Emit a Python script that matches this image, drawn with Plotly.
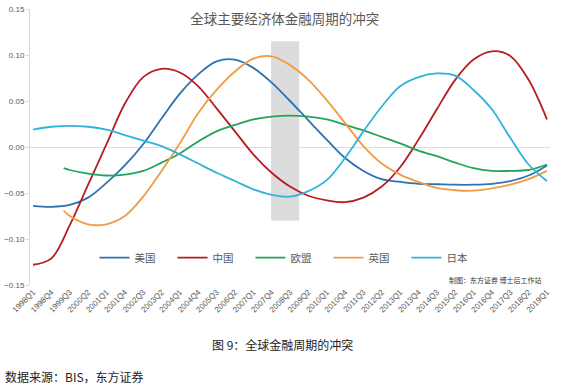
import plotly.graph_objects as go

# ---------------- data ----------------
sample_quarters = ["1998Q1", "1998Q4", "1999Q2", "1999Q3", "2000Q2", "2001Q1", "2001Q4",
                   "2002Q3", "2003Q2", "2004Q1", "2004Q4", "2005Q3", "2006Q2", "2007Q1",
                   "2007Q4", "2008Q3", "2009Q2", "2010Q1", "2010Q4", "2011Q3", "2012Q2",
                   "2013Q1", "2013Q4", "2014Q3", "2015Q2", "2016Q1", "2016Q4", "2017Q3",
                   "2018Q2", "2019Q1"]

us = [-0.064, -0.065, None, -0.063, -0.055, -0.039, -0.020, 0.003, 0.031, 0.058,
      0.079, 0.093, 0.095, 0.086, 0.070, 0.050, 0.029, 0.008, -0.012, -0.026,
      -0.035, -0.038, -0.040, -0.0405, -0.041, -0.041, -0.040, -0.037, -0.031, -0.020]

china = [-0.128, -0.121, None, -0.085, -0.041, 0.003, 0.047, 0.076, 0.085, 0.081,
         0.066, 0.042, 0.017, -0.008, -0.028, -0.043, -0.053, -0.058, -0.060, -0.055,
         -0.043, -0.022, 0.008, 0.041, 0.073, 0.095, 0.104, 0.099, 0.073, 0.030]

eu = [None, None, -0.023, -0.025, -0.029, -0.031, -0.030, -0.026, -0.017, -0.007,
      0.006, 0.017, 0.024, 0.030, 0.033, 0.034, 0.033, 0.030, 0.024, 0.018,
      0.011, 0.004, -0.004, -0.010, -0.017, -0.023, -0.026, -0.026, -0.025, -0.019]

uk = [None, None, -0.069, -0.075, -0.084, -0.084, -0.075, -0.054, -0.026, 0.004,
      0.037, 0.062, 0.082, 0.096, 0.0985, 0.089, 0.073, 0.051, 0.026, 0.001,
      -0.018, -0.030, -0.038, -0.0445, -0.047, -0.0475, -0.045, -0.041, -0.035, -0.026]

japan = [0.019, 0.022, None, 0.023, 0.022, 0.019, 0.013, 0.007, 0.001, -0.008,
         -0.018, -0.028, -0.037, -0.046, -0.052, -0.054, -0.048, -0.036, -0.012, 0.017,
         0.044, 0.066, 0.076, 0.080, 0.0775, 0.062, 0.041, 0.010, -0.019, -0.037]

tick_labels = ["1998Q1", "1998Q4", "1999Q3", "2000Q2", "2001Q1", "2001Q4", "2002Q3",
               "2003Q2", "2004Q1", "2004Q4", "2005Q3", "2006Q2", "2007Q1", "2007Q4",
               "2008Q3", "2009Q2", "2010Q1", "2010Q4", "2011Q3", "2012Q2", "2013Q1",
               "2013Q4", "2014Q3", "2015Q2", "2016Q1", "2016Q4", "2017Q3", "2018Q2",
               "2019Q1"]

series_names = ["美国", "中国", "欧盟", "英国", "日本"]
series_colors = ["#2E72B0", "#B81C22", "#23A35C", "#F19C45", "#30B3DA"]

crisis_start = "2007Q4"
crisis_end = "2008Q4"
crisis_top = 0.115
crisis_bottom = -0.08

first_quarter = "1998Q1"
last_quarter = "2019Q1"


def qidx(label):
    y, q = int(label[:4]), int(label[5])
    return (y - 1998) * 4 + (q - 1)


xs = [qidx(q) for q in sample_quarters]
all_values = [us, china, eu, uk, japan]

fig = go.Figure()

fig.add_shape(type="rect", xref="x", yref="y",
              x0=qidx(crisis_start) - 0.1, x1=qidx(crisis_end) + 0.5,
              y0=crisis_bottom, y1=crisis_top,
              fillcolor="#DCDCDC", line=dict(width=0), layer="below")

for name, vals, col in zip(series_names, all_values, series_colors):
    px = [x for x, v in zip(xs, vals) if v is not None]
    py = [v for v in vals if v is not None]
    fig.add_trace(go.Scatter(
        x=px, y=py, name=name, mode="lines",
        line=dict(color=col, width=1.8, shape="spline", smoothing=1.0),
        hoverinfo="skip"))

font_cjk = "Noto Sans CJK SC"

fig.update_layout(
    width=564, height=385,
    margin=dict(l=30, r=14, t=9, b=100, autoexpand=False),
    paper_bgcolor="white", plot_bgcolor="white",
    font=dict(family=font_cjk, color="#595959"),
    title=dict(text="全球主要经济体金融周期的冲突", x=0.505, y=0.951,
               xanchor="center", yanchor="middle",
               font=dict(size=13.5, color="#595959", family=font_cjk)),
    showlegend=True,
    legend=dict(orientation="h", x=0.124, y=0.099, xanchor="left", yanchor="middle",
                bgcolor="rgba(0,0,0,0)", font=dict(size=10.5, color="#595959"),
                entrywidth=33, entrywidthmode="pixels", itemwidth=30,
                tracegroupgap=0),
    xaxis=dict(range=[qidx(first_quarter) - 0.5, qidx(last_quarter) + 0.5],
               tickmode="array", tickvals=[qidx(t) for t in tick_labels],
               ticktext=tick_labels, tickangle=-45,
               tickfont=dict(size=8, color="#595959", family="Liberation Sans"),
               showgrid=False, zeroline=False, showline=False, ticks=""),
    yaxis=dict(range=[-0.15, 0.15], tickvals=[-0.15, -0.10, -0.05, 0.0, 0.05, 0.10, 0.15],
               tickformat=".2f",
               tickfont=dict(size=8, color="#595959", family="Liberation Sans"),
               showgrid=False, zeroline=True, zerolinecolor="#DEDEDE", zerolinewidth=1,
               showline=True, linecolor="#D9D9D9", linewidth=1,
               ticks="outside", ticklen=3, tickcolor="#D9D9D9"),
    annotations=[
        dict(text="制图：东方证券 博士后工作站", xref="paper", yref="paper",
             x=0.896, y=0.018, xanchor="center", yanchor="middle", showarrow=False,
             font=dict(size=7, color="#333333", family=font_cjk)),
        dict(text="图 9：全球金融周期的冲突", xref="paper", yref="paper",
             x=0.485, y=-0.217, xanchor="center", yanchor="middle", showarrow=False,
             font=dict(size=12, color="#222222", family=font_cjk)),
        dict(text="数据来源：BIS，东方证券", xref="paper", yref="paper",
             x=-0.052, y=-0.33, xanchor="left", yanchor="middle", showarrow=False,
             font=dict(size=12, color="#222222", family=font_cjk)),
    ],
)

fig.write_html("out.html", config={"displayModeBar": False},
               post_script="document.body.style.margin='0px';")
